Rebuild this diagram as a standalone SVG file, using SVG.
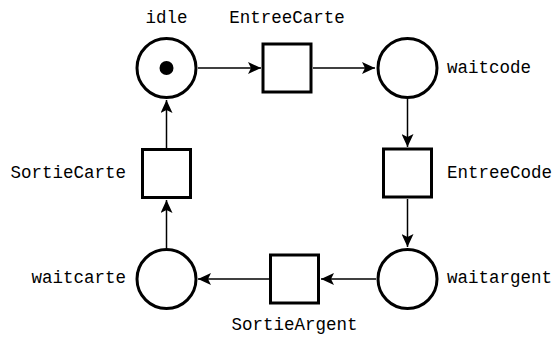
<svg xmlns="http://www.w3.org/2000/svg" width="555" height="337" viewBox="0 0 555 337">
<style>
.place{fill:#fff;stroke:#000;stroke-width:3}
.trans{fill:#fff;stroke:#000;stroke-width:3}
.arc{stroke:#000;stroke-width:1.5;fill:none;marker-end:url(#ah)}
text{font-family:"Liberation Mono","Courier New",monospace;font-size:17.5px;fill:#000}
</style>
<defs>
<marker id="ah" markerUnits="userSpaceOnUse" markerWidth="14" markerHeight="12" viewBox="0 0 14 12" refX="13" refY="6" orient="auto">
<path d="M0,0 L13,6 L0,12 L3,6 Z" fill="#000"/>
</marker>
</defs>
<g id="connectors">
<line class="arc" x1="198" y1="68" x2="261" y2="68"/>
<line class="arc" x1="313" y1="68" x2="375" y2="68"/>
<line class="arc" x1="407.5" y1="99" x2="407.5" y2="147"/>
<line class="arc" x1="407.5" y1="199" x2="407.5" y2="247"/>
<line class="arc" x1="376" y1="279" x2="321" y2="279"/>
<line class="arc" x1="269" y1="279" x2="198" y2="279"/>
<line class="arc" x1="166.5" y1="248" x2="166.5" y2="200"/>
<line class="arc" x1="166.5" y1="148" x2="166.5" y2="100"/>
</g>
<g id="idle">
<circle class="place" cx="166.5" cy="68" r="29.5"/>
<circle cx="166.5" cy="68" r="7" fill="#000"/>
<text x="166.5" y="23" text-anchor="middle">idle</text>
</g>
<g id="EntreeCarte">
<rect class="trans" x="263" y="44" width="48" height="48"/>
<text x="287" y="23" text-anchor="middle">EntreeCarte</text>
</g>
<g id="waitcode">
<circle class="place" cx="407.5" cy="68" r="29.5"/>
<text x="447" y="73">waitcode</text>
</g>
<g id="EntreeCode">
<rect class="trans" x="383.5" y="149" width="48" height="48"/>
<text x="447" y="178">EntreeCode</text>
</g>
<g id="waitargent">
<circle class="place" cx="407.5" cy="279" r="29.5"/>
<text x="447" y="283">waitargent</text>
</g>
<g id="SortieArgent">
<rect class="trans" x="270.5" y="255" width="48" height="48"/>
<text x="294.5" y="330" text-anchor="middle">SortieArgent</text>
</g>
<g id="waitcarte">
<circle class="place" cx="166.5" cy="279" r="29.5"/>
<text x="126" y="283" text-anchor="end">waitcarte</text>
</g>
<g id="SortieCarte">
<rect class="trans" x="142.5" y="149.5" width="48" height="48"/>
<text x="126" y="178" text-anchor="end">SortieCarte</text>
</g>
</svg>
